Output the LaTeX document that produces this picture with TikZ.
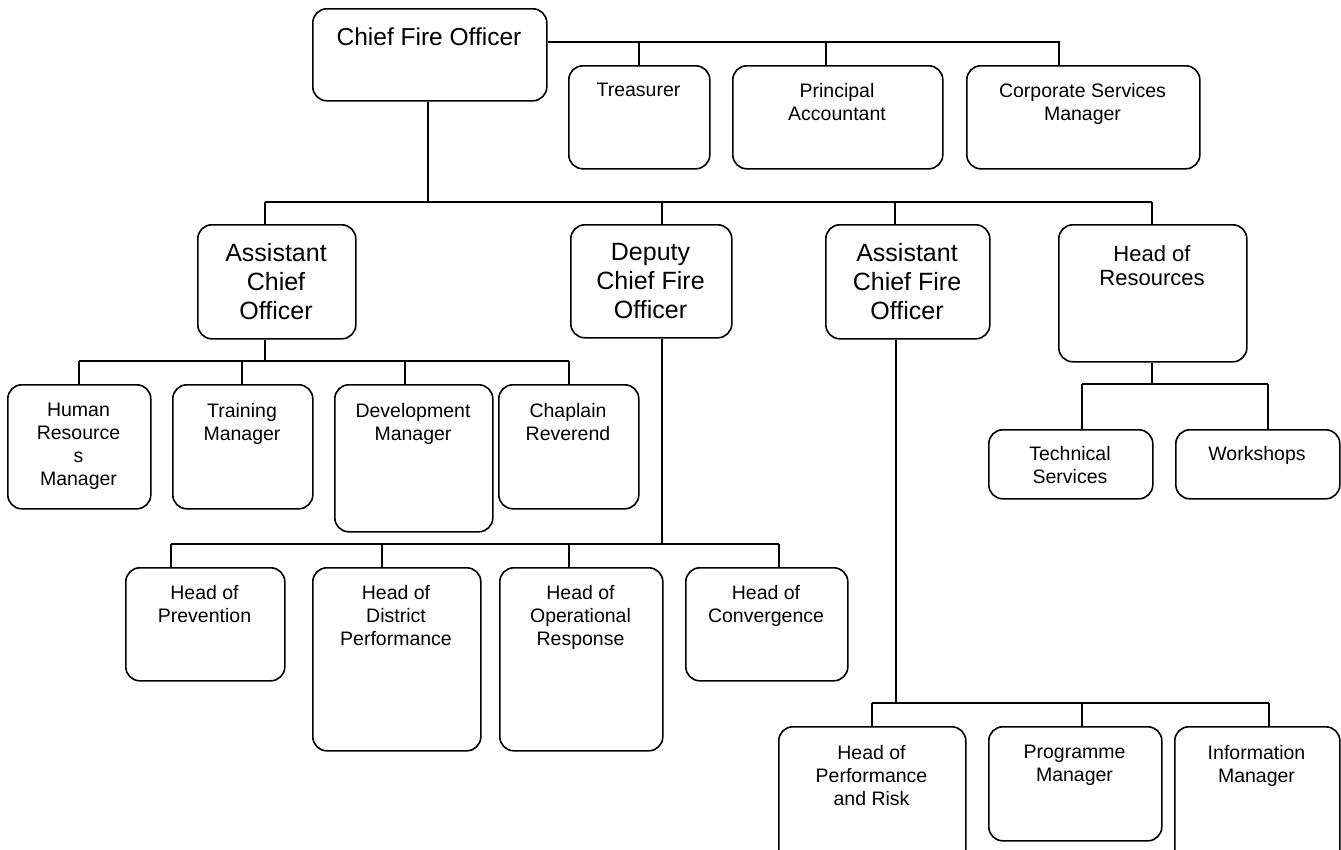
\documentclass[tikz,border=0pt]{standalone}
\usepackage{fontspec}
\setmainfont{Liberation Sans}
\newcommand\fsmall{\fontsize{19.5}{23}\selectfont}
\newcommand\flarge{\fontsize{25}{29}\selectfont}
\newcommand\fmid{\fontsize{22}{24}\selectfont}
\newcommand\fchief{\fontsize{24.5}{28}\selectfont}
\tikzset{
  orgbox/.style={draw, line width=1.6pt, rounded corners=14pt, inner sep=0pt, fill=white},
  orgtxt/.style={inner sep=0pt, align=center},
  wire/.style={line width=1.6pt},
}
% name, x1, y1, x2, y2, font, text, text top
\newcommand\obox[8]{%
  \node[orgbox, minimum width={(#4-#2)*1pt}, minimum height={(#5-#3)*1pt}, anchor=north west] (#1) at (#2,#3) {};
  \node[orgtxt, font=#6, anchor=north] (#1t) at ({(#2+#4)/2},#8) {#7};
}
\begin{document}
\begin{tikzpicture}[x=1pt,y=-1pt]
\useasboundingbox (0,0) rectangle (1341,849);
\clip (0,0) rectangle (1341,849);
% top row
\obox{CFO}{312}{8}{546}{100}{\fchief}{Chief Fire Officer}{28}
\obox{Tre}{568}{65}{709}{168}{\fsmall}{Treasurer}{83}
\obox{PA}{732}{65}{942}{168}{\fsmall}{Principal\\Accountant}{83}
\obox{CSM}{966}{65}{1199}{168}{\fsmall}{Corporate Services\\Manager}{83}
% second row
\obox{ACO}{197}{224}{355}{338}{\flarge}{Assistant\\Chief\\Officer}{243.5}
\obox{DCFO}{570}{224}{731}{337}{\flarge}{Deputy\\Chief Fire\\Officer}{243.5}
\obox{ACFO}{825}{224}{989}{338}{\flarge}{Assistant\\Chief Fire\\Officer}{243.5}
\obox{HoR}{1058}{224}{1246}{361}{\fmid}{Head of\\Resources}{245}
% ACO children
\obox{HRM}{7}{384}{150}{508}{\fsmall}{Human\\Resource\\s\\Manager}{403}
\obox{TM}{172}{384}{312}{508}{\fsmall}{Training\\Manager}{403}
\obox{DM}{334}{384}{492}{531}{\fsmall}{Development\\Manager}{403}
\obox{CR}{498}{384}{638}{508}{\fsmall}{Chaplain\\Reverend}{403}
% DCFO children
\obox{HoP}{125}{567}{284}{680}{\fsmall}{Head of\\Prevention}{585}
\obox{HDP}{312}{567}{480}{750}{\fsmall}{Head of\\District\\Performance}{585}
\obox{HOR}{499}{567}{662}{750}{\fsmall}{Head of\\Operational\\Response}{585}
\obox{HoC}{685}{567}{847}{680}{\fsmall}{Head of\\Convergence}{585}
% ACFO children
\obox{HPR}{778}{726}{965}{880}{\fsmall}{Head of\\Performance\\and Risk}{745}
\obox{PM}{988}{726}{1161}{840}{\fsmall}{Programme\\Manager}{745}
\obox{IM}{1174}{726}{1339}{880}{\fsmall}{Information\\Manager}{745}
% HoR children
\obox{TS}{988}{429}{1152}{498}{\fsmall}{Technical\\Services}{446}
\obox{WS}{1175}{429}{1339}{498}{\fsmall}{Workshops}{446}
% connectors: top
\coordinate (a1) at (1059,42);
\coordinate (a2) at (826,42);
\coordinate (a3) at (639,42);
\draw[wire] (CFO.east |- a1) -- (a1) -- (CSM.north -| a1);
\draw[wire] (a3) -- (Tre.north -| a3);
\draw[wire] (a2) -- (PA.north -| a2);
% level 2
\coordinate (b0) at (428,202);
\coordinate (b1) at (265,202);
\coordinate (b2) at (662,202);
\coordinate (b3) at (895,202);
\coordinate (b4) at (1152,202);
\draw[wire] (CFO.south -| b0) -- (b0);
\draw[wire] (b1) -- (b4);
\draw[wire] (b1) -- (ACO.north -| b1);
\draw[wire] (b2) -- (DCFO.north -| b2);
\draw[wire] (b3) -- (ACFO.north -| b3);
\draw[wire] (b4) -- (HoR.north -| b4);
% ACO children
\coordinate (c0) at (265,361);
\coordinate (c1) at (79,361);
\coordinate (c2) at (242,361);
\coordinate (c3) at (405,361);
\coordinate (c4) at (569,361);
\draw[wire] (ACO.south -| c0) -- (c0);
\draw[wire] (c1) -- (c4);
\draw[wire] (c1) -- (HRM.north -| c1);
\draw[wire] (c2) -- (TM.north -| c2);
\draw[wire] (c3) -- (DM.north -| c3);
\draw[wire] (c4) -- (CR.north -| c4);
% DCFO children
\coordinate (d0) at (662,544);
\coordinate (d1) at (171,544);
\coordinate (d2) at (382,544);
\coordinate (d3) at (569,544);
\coordinate (d4) at (779,544);
\draw[wire] (DCFO.south -| d0) -- (d0);
\draw[wire] (d1) -- (d4);
\draw[wire] (d1) -- (HoP.north -| d1);
\draw[wire] (d2) -- (HDP.north -| d2);
\draw[wire] (d3) -- (HOR.north -| d3);
\draw[wire] (d4) -- (HoC.north -| d4);
% ACFO children
\coordinate (e0) at (896,703);
\coordinate (e1) at (872,703);
\coordinate (e2) at (1082,703);
\coordinate (e3) at (1269,703);
\draw[wire] (ACFO.south -| e0) -- (e0);
\draw[wire] (e1) -- (e3);
\draw[wire] (e1) -- (HPR.north -| e1);
\draw[wire] (e2) -- (PM.north -| e2);
\draw[wire] (e3) -- (IM.north -| e3);
% HoR children
\coordinate (f0) at (1152,384);
\coordinate (f1) at (1082,384);
\coordinate (f2) at (1268,384);
\draw[wire] (HoR.south -| f0) -- (f0);
\draw[wire] (f1) -- (f2);
\draw[wire] (f1) -- (TS.north -| f1);
\draw[wire] (f2) -- (WS.north -| f2);
\end{tikzpicture}
\end{document}
